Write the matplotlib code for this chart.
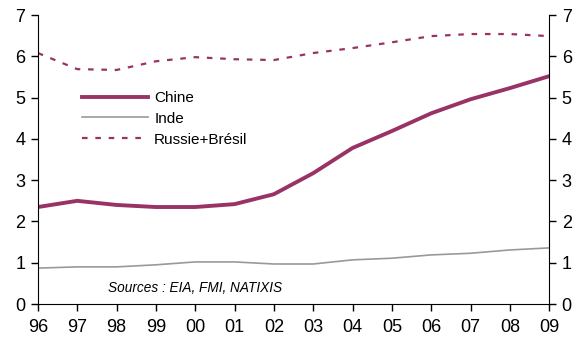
import matplotlib
matplotlib.use('Agg')
from matplotlib import pyplot as plt

plt.rcParams['font.family'] = ['Liberation Sans', 'DejaVu Sans']

annees = ['96', '97', '98', '99', '00', '01', '02', '03', '04', '05', '06', '07', '08', '09']
chine = [2.35, 2.50, 2.40, 2.35, 2.35, 2.42, 2.66, 3.17, 3.78, 4.19, 4.62, 4.96, 5.23, 5.52]
inde = [0.87, 0.90, 0.90, 0.95, 1.02, 1.02, 0.97, 0.97, 1.07, 1.11, 1.19, 1.23, 1.31, 1.36]
russie_bresil = [6.08, 5.69, 5.67, 5.88, 5.98, 5.93, 5.91, 6.08, 6.20, 6.34, 6.49, 6.54, 6.54, 6.49]

couleur = '#993366'

fig = plt.figure(figsize=(5.83, 3.42), dpi=100)
ax = fig.add_axes([0.065, 0.111, 0.877, 0.845])
x = list(range(len(annees)))

ax.plot(x, chine, color=couleur, lw=2.8, label='Chine')
ax.plot(x, inde, color='#999999', lw=1.2, label='Inde')
ax.plot(x, russie_bresil, color=couleur, lw=1.6, ls=(0, (2.5, 3.5)), label='Russie+Brésil')

ax.set_xlim(0, len(annees) - 1)
ax.set_ylim(0, 7)
ax.set_xticks(x)
ax.set_xticklabels(annees)
ax.set_yticks(range(8))

ax.spines['top'].set_visible(False)
ax.tick_params(axis='both', labelsize=13, direction='out', length=5, width=1, color='black')
ax.tick_params(axis='y', right=True, labelright=True, pad=4)
ax.tick_params(axis='x', pad=6)

ax.legend(loc='upper left', bbox_to_anchor=(0.06, 0.785), frameon=False, fontsize=11,
          handlelength=4.3, handletextpad=0.4, labelspacing=0.45)

ax.text(0.137, 0.03, 'Sources : EIA, FMI, NATIXIS', transform=ax.transAxes,
        fontsize=9.8, style='italic', ha='left', va='bottom')

plt.savefig('out.png', dpi=100)
